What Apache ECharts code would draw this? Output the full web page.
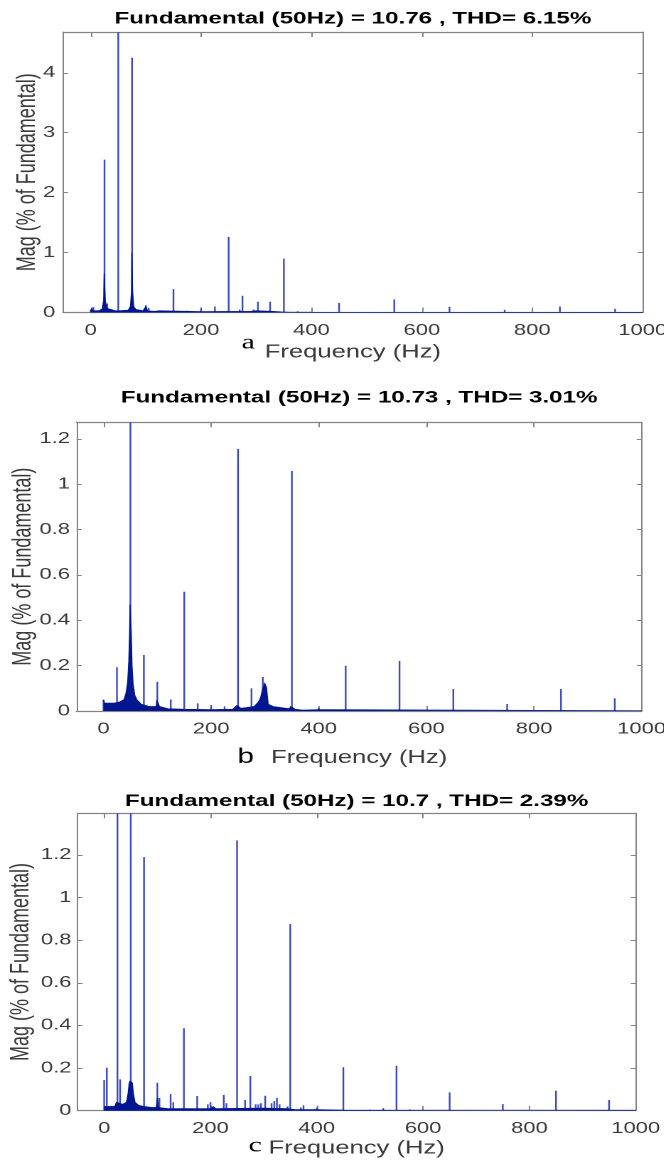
<!DOCTYPE html>
<html><head><meta charset="utf-8">
<script src="https://cdn.jsdelivr.net/npm/echarts@6/dist/echarts.min.js"></script>
<style>
html,body{margin:0;padding:0;background:#fff;overflow:hidden;width:664px;height:1162px}
#c{position:absolute;left:0;top:0;height:1162px;transform-origin:0 0}
</style>
</head><body><div id="c"></div>
<script>
// ---------- data ----------
const xTicks = [0, 200, 400, 600, 800, 1000];
const yTicksA = [0, 1, 2, 3, 4];
const yTicksB = [0, 0.2, 0.4, 0.6, 0.8, 1, 1.2];
const yTicksC = [0, 0.2, 0.4, 0.6, 0.8, 1, 1.2];
const titles = [
  'Fundamental (50Hz) = 10.76 , THD= 6.15%',
  'Fundamental (50Hz) = 10.73 , THD= 3.01%',
  'Fundamental (50Hz) = 10.7 , THD= 2.39%'
];
const letters = ['a', 'b', 'c'];
const xName = 'Frequency (Hz)';
const yName = 'Mag (% of Fundamental)';

// panel a: harmonic lines
const harmFreqA = [0, 5, 25, 30, 50, 75, 100, 105, 125, 150, 175, 200, 225, 250, 270, 275, 295, 303, 325, 350, 375, 400, 450, 550, 650, 750, 850, 950];
const harmMagA  = [0.05, 0.09, 2.55, 0.15, 100, 4.25, 0.12, 0.08, 0.03, 0.39, 0.03, 0.07, 0.1, 1.26, 0.05, 0.28, 0.05, 0.18, 0.18, 0.9, 0.02, 0.01, 0.16, 0.22, 0.095, 0.045, 0.1, 0.062];
// panel a: dense spectrum floor
const floorFreqA = [0, 2, 4, 15, 21, 23.5, 24.5, 25.5, 26.5, 29, 31, 33, 45, 52, 68, 72, 74, 74.6, 75.4, 76, 78, 82, 95, 100, 103, 115, 125, 130, 200, 290, 300, 330, 345, 360, 400, 1000];
const floorMagA  = [0.02, 0.07, 0.03, 0.03, 0.06, 0.2, 0.65, 0.65, 0.2, 0.07, 0.1, 0.04, 0.03, 0.03, 0.04, 0.1, 0.35, 1.0, 1.0, 0.35, 0.1, 0.05, 0.03, 0.1, 0.03, 0.02, 0.03, 0.01, 0.015, 0.02, 0.03, 0.02, 0.01, 0.005, 0.004, 0.002];

// panel b
const harmFreqB = [0, 25, 50, 75, 100, 125, 150, 175, 200, 225, 250, 275, 296, 299, 302, 350, 400, 450, 550, 650, 750, 850, 950];
const harmMagB  = [0.05, 0.193, 100, 0.247, 0.129, 0.051, 0.526, 0.034, 0.026, 0.02, 1.156, 0.1, 0.15, 0.125, 0.11, 1.059, 0.015, 0.199, 0.221, 0.097, 0.031, 0.097, 0.056];
const floorFreqB = [0, 1, 2, 10, 20, 30, 38, 42, 45, 47, 48.5, 49.3, 50.7, 51.5, 53, 55, 58, 62, 70, 85, 98, 99, 102, 104, 120, 150, 200, 240, 245, 248, 252, 255, 265, 280, 288, 292, 296, 300, 303, 306, 315, 330, 345, 348, 352, 356, 370, 400, 405, 1000];
const floorMagB  = [0.05, 0.045, 0.035, 0.035, 0.035, 0.04, 0.05, 0.08, 0.13, 0.22, 0.35, 0.47, 0.47, 0.35, 0.2, 0.12, 0.07, 0.05, 0.03, 0.02, 0.02, 0.05, 0.05, 0.02, 0.01, 0.008, 0.006, 0.008, 0.015, 0.025, 0.025, 0.012, 0.015, 0.02, 0.04, 0.06, 0.1, 0.12, 0.1, 0.03, 0.02, 0.015, 0.01, 0.02, 0.02, 0.008, 0.004, 0.006, 0.002, 0.001];

// panel c
const harmFreqC = [0, 5, 25, 30, 50, 75, 100, 104, 125, 130, 150, 175, 195, 200, 225, 230, 250, 265, 275, 285, 290, 295, 303, 315, 320, 325, 330, 345, 350, 370, 375, 400, 450, 500, 525, 550, 575, 600, 650, 750, 850, 950];
const harmMagC  = [0.144, 0.202, 100, 0.147, 100, 1.19, 0.131, 0.06, 0.078, 0.04, 0.387, 0.069, 0.03, 0.04, 0.074, 0.035, 1.268, 0.05, 0.163, 0.03, 0.03, 0.035, 0.07, 0.035, 0.045, 0.06, 0.03, 0.02, 0.875, 0.015, 0.025, 0.015, 0.204, 0.005, 0.012, 0.211, 0.006, 0.005, 0.086, 0.031, 0.094, 0.05];
const floorFreqC = [0, 2, 10, 20, 23, 27, 35, 42, 45, 47, 49, 51, 53, 55, 58, 65, 75, 90, 98, 100, 102, 120, 200, 205, 210, 300, 345, 360, 398, 400, 402, 450, 1000];
const floorMagC  = [0.02, 0.015, 0.02, 0.02, 0.04, 0.04, 0.03, 0.04, 0.08, 0.13, 0.14, 0.14, 0.13, 0.08, 0.04, 0.025, 0.02, 0.015, 0.015, 0.06, 0.015, 0.01, 0.01, 0.02, 0.01, 0.012, 0.01, 0.005, 0.005, 0.012, 0.004, 0.003, 0.002];

const yMax = [4.68, 1.273, 1.395];

// ---------- layout ----------
// The reference figure is horizontally stretched; draw in a narrower box and stretch it.
const S = 1.42;
const W = 664 / S, H = 1162;
const box = [
  {left: 63, top: 32, right: 642, height: 280.5},
  {left: 76.5, top: 422.3, right: 641, height: 288.7},
  {left: 77.5, top: 813.3, right: 635, height: 297.4}
];
const titleY = [19, 398, 801.5];
const letterPos = [[248, 343], [245.5, 757], [255, 1146]];
const letterFont = ['21px "Liberation Serif"', '21px "Liberation Sans"', '21px "Liberation Serif"'];
const yNameGap = [16, 28.5, 30.5];
const xNameGap = [31, 38, 29];
const yLabelMargin = [5.5, 4.6, 4.3];

const zip = (a, b) => a.map((v, i) => [v, b[i]]);
const harms = [zip(harmFreqA, harmMagA), zip(harmFreqB, harmMagB), zip(harmFreqC, harmMagC)];
const floors = [zip(floorFreqA, floorMagA), zip(floorFreqB, floorMagB), zip(floorFreqC, floorMagC)];
const yTicks = [yTicksA, yTicksB, yTicksC];

const AX = '#858585', TXT = '#3a3a3a', FF = '"Liberation Sans", Arial, sans-serif';
const grids = box.map(b => ({
  left: b.left / S, top: b.top, width: (b.right - b.left) / S, height: b.height,
  containLabel: false, outerBoundsMode: 'none'
}));
const xAxis = [], yAxis = [], series = [], graphic = [];
grids.forEach((g, k) => {
  xAxis.push({
    type: 'value', gridIndex: k, min: -50, max: 1000, position: 'bottom',
    axisLine: {show: true, onZero: false, lineStyle: {color: AX, width: 1.2}},
    axisTick: {show: true, inside: true, length: 5, customValues: xTicks, lineStyle: {color: AX}},
    axisLabel: {customValues: xTicks, color: TXT, fontSize: 15.5, fontFamily: FF, margin: 10, formatter: v => String(v)},
    splitLine: {show: false},
    name: xName, nameLocation: 'middle', nameGap: xNameGap[k], nameMoveOverlap: false,
    nameTextStyle: {fontSize: 18, color: TXT, fontFamily: FF}
  });
  xAxis.push({
    type: 'value', gridIndex: k, min: -50, max: 1000, position: 'top',
    axisLine: {show: true, onZero: false, lineStyle: {color: AX, width: 1.2}},
    axisTick: {show: true, inside: true, length: 5, customValues: xTicks, lineStyle: {color: AX}},
    axisLabel: {show: false}, splitLine: {show: false}
  });
  yAxis.push({
    type: 'value', gridIndex: k, min: 0, max: yMax[k], position: 'left',
    axisLine: {show: true, onZero: false, lineStyle: {color: AX, width: 1}},
    axisTick: {show: true, inside: true, length: 3.5, customValues: yTicks[k], lineStyle: {color: AX}},
    axisLabel: {customValues: yTicks[k], color: TXT, fontSize: 15.5, fontFamily: FF, margin: yLabelMargin[k], formatter: v => String(v)},
    splitLine: {show: false},
    name: yName, nameLocation: 'middle', nameRotate: 90, nameGap: yNameGap[k], nameMoveOverlap: false,
    nameTextStyle: {fontSize: 18, color: TXT, fontFamily: FF}
  });
  yAxis.push({
    type: 'value', gridIndex: k, min: 0, max: yMax[k], position: 'right',
    axisLine: {show: true, onZero: false, lineStyle: {color: AX, width: 1}},
    axisTick: {show: true, inside: true, length: 3.5, customValues: yTicks[k], lineStyle: {color: AX}},
    axisLabel: {show: false}, splitLine: {show: false}
  });
  series.push({
    type: 'line', xAxisIndex: 2 * k, yAxisIndex: 2 * k, data: floors[k],
    symbol: 'none', silent: true, animation: false,
    lineStyle: {color: '#001590', width: 0.7},
    areaStyle: {color: '#001590', opacity: 1}
  });
  series.push({
    type: 'bar', xAxisIndex: 2 * k, yAxisIndex: 2 * k, data: harms[k],
    barWidth: 1.2, clip: true, animation: false,
    itemStyle: {color: '#3a48c4'}
  });
  graphic.push({
    type: 'text', x: g.left + g.width / 2, y: titleY[k],
    style: {text: titles[k], font: 'bold 17px ' + FF, fill: '#000', textAlign: 'center', textVerticalAlign: 'middle'}
  });
  graphic.push({
    type: 'text', x: letterPos[k][0] / S, y: letterPos[k][1],
    style: {text: letters[k], font: letterFont[k], fill: '#000', textAlign: 'center', textVerticalAlign: 'middle'}
  });
});

const el = document.getElementById('c');
el.style.width = W + 'px';
el.style.transform = 'scaleX(' + S + ')';
const chart = echarts.init(el, null, {renderer: 'canvas', width: W, height: H, devicePixelRatio: 2});
chart.setOption({
  animation: false,
  backgroundColor: '#fff',
  grid: grids,
  xAxis, yAxis, series, graphic
});
</script>
</body></html>
